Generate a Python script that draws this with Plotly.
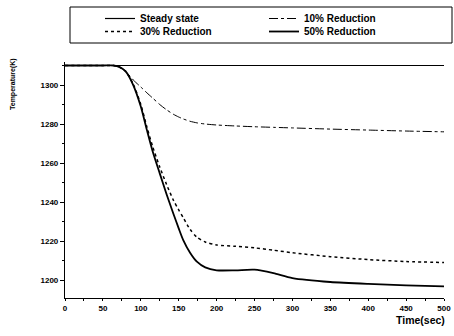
import plotly.graph_objects as go

t = [0, 50, 64, 72, 80, 90, 100, 108, 116, 125, 134, 143, 150, 156, 165, 174, 185, 200, 225, 250, 275, 300, 350, 400, 450, 500]
steady = [1310] * len(t)
red10 = [1310, 1310, 1310, 1309.2, 1307, 1302.6, 1299, 1296, 1293.2, 1290, 1287.3, 1285, 1283.6, 1282.6, 1281.4, 1280.6,
         1280, 1279.5, 1279, 1278.6, 1278.3, 1278, 1277.4, 1276.9, 1276.4, 1276]
red30 = [1310, 1310, 1310, 1309.2, 1307, 1300.5, 1290, 1278.5, 1268, 1258, 1249, 1241, 1236, 1232, 1226, 1222,
         1219.5, 1218, 1217.3, 1216.5, 1215.3, 1214, 1212, 1210.5, 1209.5, 1209]
red50 = [1310, 1310, 1310, 1309.2, 1307, 1300, 1289, 1277, 1265.5, 1254.7, 1244, 1234, 1226.5, 1220.5, 1214, 1209.4,
         1206.5, 1205, 1205, 1205.3, 1203.5, 1201, 1199, 1198, 1197.3, 1196.8]

FONT = "Liberation Sans"
W, H = 454, 336
ML, MR, MT, MB = 65, 10, 62, 38
PW, PH = W - ML - MR, H - MT - MB


def px_x(px):
    return (px - ML) / PW


def px_y(py):
    return 1 + (MT - py) / PH


SM = 0.7
fig = go.Figure()
fig.add_trace(go.Scatter(x=t, y=steady, mode="lines", name="Steady state", legend="legend",
                         line=dict(color="black", width=1.2)))
fig.add_trace(go.Scatter(x=t, y=red10, mode="lines", name="10% Reduction", legend="legend",
                         line=dict(color="black", width=1, dash="dashdot", shape="spline", smoothing=SM)))
fig.add_trace(go.Scatter(x=t, y=red30, mode="lines", name="30% Reduction", legend="legend2",
                         line=dict(color="black", width=1.5, dash="dot", shape="spline", smoothing=SM)))
fig.add_trace(go.Scatter(x=t, y=red50, mode="lines", name="50% Reduction", legend="legend2",
                         line=dict(color="black", width=1.8, shape="spline", smoothing=SM)))

leg_common = dict(
    orientation="h", xanchor="left", yanchor="top",
    entrywidth=119, entrywidthmode="pixels",
    borderwidth=0, bgcolor="rgba(0,0,0,0)",
    font=dict(family=FONT, size=10, color="black", weight="bold"),
    tracegroupgap=0, itemwidth=30,
)

fig.update_layout(
    width=W, height=H,
    margin=dict(l=ML, r=MR, t=MT, b=MB, autoexpand=False),
    paper_bgcolor="white", plot_bgcolor="white",
    font=dict(family=FONT, size=8, color="black", weight="bold"),
    showlegend=True,
    legend=dict(x=px_x(100), y=px_y(4), **leg_common),
    legend2=dict(x=px_x(100), y=px_y(17), **leg_common),
    xaxis=dict(
        range=[0, 500], dtick=50, tick0=0, showgrid=False, zeroline=False,
        showline=True, linecolor="black", linewidth=1.2,
        ticks="outside", ticklen=2, tickcolor="black",
        minor=dict(dtick=25, ticks="outside", ticklen=2, tickcolor="black"),
        tickfont=dict(size=8),
    ),
    yaxis=dict(
        range=[1190.8, 1311.8], dtick=20, tick0=1200, showgrid=False, zeroline=False,
        showline=True, linecolor="black", linewidth=1.2,
        ticks="outside", ticklen=4, tickcolor="black",
        minor=dict(dtick=10, ticks="outside", ticklen=2, tickcolor="black"),
        tickfont=dict(size=8),
    ),
    shapes=[
        dict(type="rect", xref="paper", yref="paper",
             x0=px_x(70), x1=px_x(452), y0=px_y(43), y1=px_y(7),
             line=dict(color="black", width=1), fillcolor="rgba(0,0,0,0)", layer="below"),
    ],
    annotations=[
        dict(text="Time(sec)", xref="paper", yref="paper", x=px_x(447), y=px_y(312),
             xanchor="right", yanchor="top", showarrow=False,
             font=dict(size=10.5, family=FONT, weight="bold")),
        dict(text="Temperature(K)", xref="paper", yref="paper", x=px_x(13), y=px_y(84),
             xanchor="center", yanchor="middle", textangle=-90, showarrow=False,
             font=dict(size=7, family=FONT, weight="bold")),
    ],
)

fig.write_html("out.html")
